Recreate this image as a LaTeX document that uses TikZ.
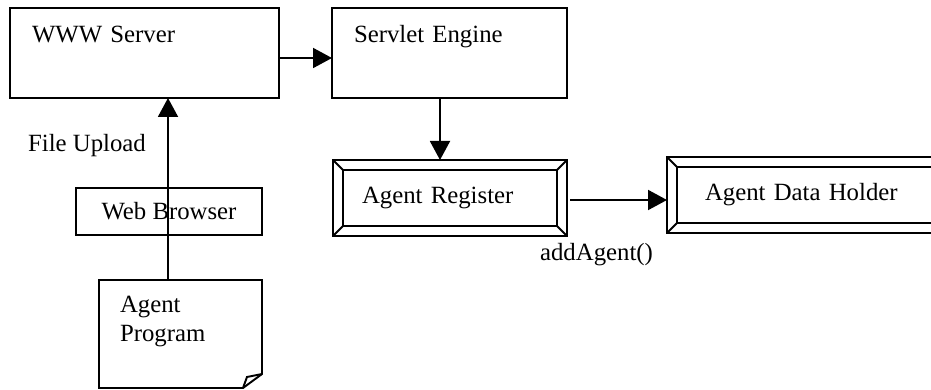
\documentclass[tikz,border=0pt]{standalone}
\usepackage{fontspec}
\setmainfont{Liberation Serif}
\usetikzlibrary{arrows.meta}

\tikzset{
    unit/.style={draw, align=left, outer sep=0pt, inner xsep=0.44cm, inner ysep=0pt, text height=0.7cm, text depth=1.1cm},
    bevelbox/.style={draw, align=left, outer sep=0pt, inner ysep=0pt, minimum height=1.52cm},
    plainbox/.style={draw, outer sep=0pt, minimum width=3.72cm, minimum height=0.94cm},
    note/.style={align=left, outer sep=0pt, inner xsep=0.42cm, inner ysep=0pt, text width=2.42cm, text height=0.64cm, text depth=1.52cm},
    flow/.style={-{Triangle[length=0.38cm, width=0.4cm]}}
}

\begin{document}
\begin{tikzpicture}[line width=1.1pt, font=\fontsize{14.1}{17}\selectfont]
        \useasboundingbox (0, 0) rectangle (18.62, -7.8);
        \clip (0, 0) rectangle (18.62, -7.8);
        \node[unit, text width=4.5cm] (www) at (2.89, -1.06) {WWW Server};
        \node[unit, text width=3.82cm] (servlet) at (8.99, -1.06) {Servlet Engine};
        \node[bevelbox, text width=3.52cm, inner xsep=0.58cm] (reg) at (9.0, -3.96) {Agent Register};
        \node[bevelbox, text width=4.36cm, inner xsep=0.76cm] (holder) at (16.28, -3.9) {Agent Data Holder};
        \node[plainbox] (web) at (3.38, -4.23) {Web Browser};
        \node[note] (prog) at (3.61, -6.68) {Agent\\Program};
        \node (upload) at (1.74, -2.92) {File Upload};
        \node (add) at (11.93, -5.1) {addAgent()};
        % bevelled frames
        \foreach \b in {reg, holder} {
            \draw ([shift={(0.2, -0.2)}]\b.north west) rectangle ([shift={(-0.2, 0.2)}]\b.south east);
            \draw (\b.north west) -- ++(0.2, -0.2) (\b.north east) -- ++(-0.2, -0.2)
                  (\b.south west) -- ++(0.2, 0.2) (\b.south east) -- ++(-0.2, 0.2);
        }
        % folded sheet
        \draw (prog.north west) -- (prog.north east) -- ([yshift=0.28cm]prog.south east)
              -- ([xshift=-0.38cm]prog.south east) -- (prog.south west) -- cycle;
        \draw ([xshift=-0.38cm]prog.south east) -- ([shift={(-0.3, 0.22)}]prog.south east)
              -- ([yshift=0.28cm]prog.south east);
        % arrows
        \draw[flow] ([yshift=-0.1cm]www.east) -- ([yshift=-0.1cm]www.east -| servlet.west);
        \draw[flow] ([xshift=-0.19cm]servlet.south) -- ([xshift=-0.19cm]servlet.south |- reg.north);
        \draw[flow] ([shift={(0.06, -0.04)}]reg.east) -- ([yshift=-0.04cm]reg.east -| holder.west);
        \draw[flow] ([xshift=-0.25cm]prog.north) -- ([xshift=-0.25cm]prog.north |- www.south);
\end{tikzpicture}
\end{document}
